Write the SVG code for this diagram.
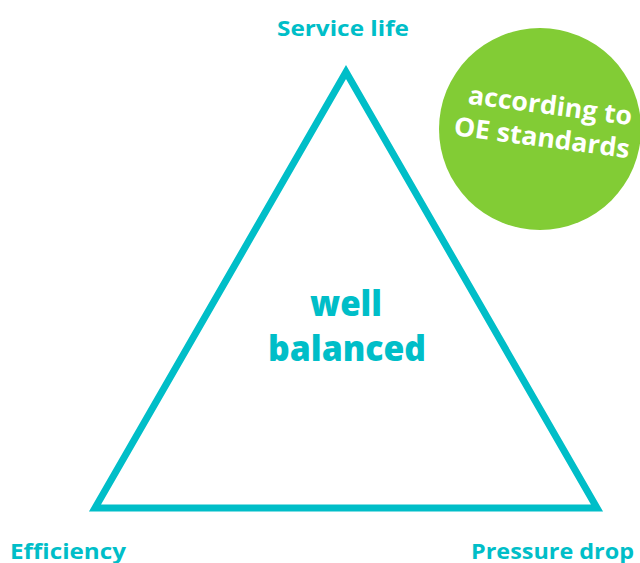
<svg xmlns="http://www.w3.org/2000/svg" width="640" height="563" viewBox="0 0 640 563">
<style>
.lbl{font-family:"Open Sans","Liberation Sans",sans-serif;font-weight:700;fill:#00BEC8;}
.big{font-weight:800;font-size:36px;}
.badge{font-family:"Open Sans","Liberation Sans",sans-serif;font-weight:700;fill:#ffffff;font-size:26px;}
</style>
<rect width="640" height="563" fill="#ffffff"/>
<g id="triangle">
<polygon points="346,72 95,508 597,508" fill="none" stroke="#00BEC8" stroke-width="7" stroke-linejoin="miter"/>
<text class="lbl big" x="346" y="316" text-anchor="middle" textLength="72" lengthAdjust="spacingAndGlyphs">well</text>
<text class="lbl big" x="347" y="361" text-anchor="middle" textLength="158" lengthAdjust="spacingAndGlyphs">balanced</text>
</g>
<g id="service-life"><text class="lbl" x="277" y="36" font-size="22" textLength="132" lengthAdjust="spacingAndGlyphs">Service life</text></g>
<g id="efficiency"><text class="lbl" x="10" y="559" font-size="22" textLength="116" lengthAdjust="spacingAndGlyphs">Efficiency</text></g>
<g id="pressure-drop"><text class="lbl" x="471" y="559" font-size="22" textLength="163" lengthAdjust="spacingAndGlyphs">Pressure drop</text></g>
<g id="badge">
<circle cx="540" cy="129" r="101" fill="#82CC35"/>
<g transform="rotate(7.5 545 130)">
<text class="badge" x="547" y="114" text-anchor="middle" textLength="165" lengthAdjust="spacingAndGlyphs">according to</text>
<text class="badge" x="543" y="147" text-anchor="middle" textLength="177" lengthAdjust="spacingAndGlyphs">OE standards</text>
</g>
</g>
</svg>
